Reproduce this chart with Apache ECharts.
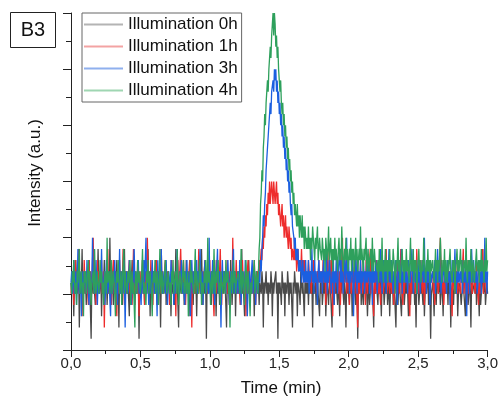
<!DOCTYPE html>
<html>
<head>
<meta charset="utf-8">
<script src="https://cdn.jsdelivr.net/npm/echarts@6/dist/echarts.min.js"></script>
<style>
html,body{margin:0;padding:0;background:#fff;}
#chart{width:501px;height:403px;}
</style>
</head>
<body>
<div id="chart"></div>
<script>
// Sampling: one value every 0.005 min, from 0 to 3.0 min
const timeStart = 0;
const timeStep = 0.005;

// Tick labels
const xTickLabels = ['0,0','0,5','1,0','1,5','2,0','2,5','3,0'];
const seriesNames = ['Illumination 0h','Illumination 1h','Illumination 3h','Illumination 4h'];

// Intensity (a.u.), 20 samples (0.1 min) per row
const gray0h = [
6,5,7,6,3,6,5,8,6,5,6,7,2,6,5,6,9,5,6,7,
5,6,4,7,6,5,8,6,6,1,6,7,5,6,6,4,7,5,6,9,
6,5,6,7,3,6,5,6,8,5,6,7,4,6,6,5,10,6,5,7,
6,4,6,5,7,6,8,5,6,2,7,6,5,6,4,7,6,9,5,6,
7,5,6,6,3,7,5,6,8,6,5,7,4,6,6,5,7,6,1,6,
5,7,6,8,5,6,4,7,6,5,6,9,5,6,3,7,6,5,6,7,
6,5,8,6,4,6,7,5,6,2,6,7,5,6,5,6,8,4,6,5,
7,6,5,6,3,6,6,5,7,4,6,9,5,6,6,2,7,5,6,6,
5,6,7,4,6,5,8,6,5,6,3,6,7,5,6,6,4,7,6,5,
6,3,6,5,7,6,6,5,9,6,4,6,5,7,6,1,6,5,6,7,
6,5,4,7,6,6,5,8,6,3,6,5,7,6,4,6,6,5,7,6,
5,7,6,6,2,6,5,7,6,5,8,6,4,6,5,6,7,3,6,5,
6,6,5,7,4,6,9,5,6,6,3,7,5,6,6,5,8,6,4,6,
5,6,7,6,3,6,5,6,7,5,6,4,6,6,5,7,6,2,6,5,
6,7,5,6,4,6,6,5,7,6,3,6,5,6,6,7,5,6,1,6,
5,6,6,4,7,6,5,6,3,6,6,5,7,6,4,6,5,6,6,2,
6,5,7,6,5,6,3,6,6,5,4,7,6,5,6,6,3,6,5,6,
5,6,4,6,5,7,5,6,2,6,5,5,6,4,6,7,5,5,3,6,
5,6,4,5,7,5,6,3,5,6,5,4,6,8,5,5,2,6,5,4,
6,5,7,5,4,6,5,3,6,5,6,9,5,4,6,5,2,6,5,7,
5,4,6,5,6,3,5,6,8,5,4,6,5,1,6,5,5,7,4,6,
5,4,6,5,7,6,5,3,5,6,4,5,6,8,5,4,2,6,5,5,
6,5,4,6,5,7,5,3,6,5,6,4,5,9,5,6,4,5,6,3,
5,6,5,7,4,6,5,5,2,6,5,4,6,7,5,5,3,6,5,6,
4,5,7,5,6,5,3,6,5,4,6,5,8,5,6,4,5,2,6,5,
6,4,5,6,5,7,5,4,6,3,5,6,5,5,7,4,6,5,1,5,
5,6,5,3,6,5,4,6,7,5,5,6,4,5,8,5,3,6,5,6,
5,5,6,4,7,5,6,2,5,6,5,4,6,5,7,5,6,3,5,6,
6,5,4,5,6,8,5,5,3,6,5,6,4,5,7,5,2,6,5,5,
5,6,5,7,4,5,6,5,3,6,4,5,6,9,5,5,6,4,5,6,
5
];
const red1h = [
5,6,7,6,4,6,8,6,5,7,6,9,5,6,6,7,3,6,5,8,
6,5,7,6,6,4,8,6,7,5,6,6,10,5,7,6,4,6,8,6,
7,5,6,6,8,5,6,7,2,6,5,7,6,9,6,5,6,7,4,6,
6,8,5,7,6,6,3,7,5,6,8,6,7,5,6,9,6,4,7,6,
5,7,6,6,8,5,7,6,4,6,9,5,6,7,6,5,8,6,3,7,
6,6,5,8,7,6,4,6,7,5,10,6,6,7,5,8,6,6,4,7,
6,5,7,8,6,6,4,7,5,6,9,6,7,5,6,6,8,5,7,6,
7,6,4,6,5,8,6,7,6,5,6,3,7,6,8,5,6,6,9,6,
5,6,8,6,7,4,6,5,7,6,6,8,5,6,2,7,6,6,5,7,
6,7,5,6,9,6,5,7,6,4,7,6,6,8,5,6,7,5,6,6,
8,5,6,7,6,6,3,6,7,5,8,6,6,5,7,9,6,4,6,7,
6,6,7,5,6,8,5,6,4,7,6,6,5,10,6,7,5,6,8,6,
5,7,6,6,4,6,7,8,6,5,6,7,3,6,6,8,5,7,6,5,
6,7,5,6,8,6,4,6,7,6,6,8,7,8,9,8,10,9,11,10,
12,11,13,12,14,13,15,13,14,15,14,13,15,14,13,14,15,13,14,12,
13,12,11,12,13,11,12,10,11,12,10,11,10,9,11,10,9,10,8,9,
9,8,10,8,9,7,8,9,7,8,8,7,9,7,8,6,8,7,6,7,
7,6,8,7,6,7,5,7,6,8,7,6,7,6,5,7,6,8,6,7,
6,7,5,8,6,6,7,4,6,5,9,6,7,5,6,8,6,3,7,6,
5,7,6,6,8,5,6,7,4,6,6,10,5,7,6,6,8,5,6,7,
6,4,7,6,5,8,6,6,7,5,9,6,6,2,7,6,5,8,6,7,
5,6,7,6,4,8,6,5,7,6,6,9,5,7,6,6,3,7,6,5,
8,6,7,5,6,6,4,7,6,8,5,6,7,6,9,5,6,7,6,5,
6,8,5,7,6,4,6,7,6,5,8,6,7,5,6,9,6,6,4,7,
5,6,8,6,7,5,6,6,3,7,6,5,8,6,6,7,5,6,9,6,
7,5,6,6,8,6,5,7,6,4,6,7,5,8,6,6,7,5,6,6,
6,7,5,6,4,7,6,8,6,5,6,6,10,6,5,7,6,4,6,7,
5,6,6,8,6,7,5,6,6,3,7,6,6,5,8,6,7,5,6,6,
6,5,7,6,6,9,5,6,7,6,4,6,8,5,6,7,6,6,5,7,
7,6,5,6,8,6,6,4,7,5,6,7,6,9,5,6,6,7,5,6,
6
];
const blue3h = [
6,7,5,6,8,5,6,7,4,6,9,6,5,7,6,3,6,7,5,6,
7,6,5,8,6,6,4,7,6,5,6,10,6,7,5,6,8,6,4,6,
6,5,7,6,9,6,5,6,7,4,6,8,6,5,7,6,6,3,7,6,
5,7,6,8,6,5,6,4,7,6,9,5,6,7,6,5,8,6,2,6,
7,6,5,6,8,6,7,4,6,5,7,9,6,6,5,7,6,8,5,6,
6,4,7,6,5,8,6,6,10,5,7,6,4,6,7,5,6,8,6,7,
5,6,7,6,3,8,6,5,7,6,9,6,5,6,7,6,5,8,6,4,
6,7,6,5,8,6,6,7,4,6,5,7,6,9,6,6,5,7,6,8,
7,5,6,6,4,7,6,8,5,6,7,6,3,6,8,6,5,7,6,6,
6,8,5,7,6,6,9,5,6,7,4,6,6,8,5,7,6,6,5,10,
5,6,7,6,8,5,6,4,7,6,6,9,5,6,7,6,2,6,8,6,
6,7,6,5,7,6,8,6,4,6,7,5,6,6,9,5,7,6,6,5,
7,6,5,8,6,4,6,7,6,6,5,8,7,6,3,6,6,7,5,6,
6,8,5,6,7,6,4,7,6,5,6,7,6,8,7,9,10,12,11,13,
14,16,17,18,18,20,20,22,21,23,23,24,23,25,24,25,23,24,22,23,
21,22,20,21,19,20,18,19,17,18,16,17,15,16,14,15,13,12,13,11,
11,10,9,10,8,9,8,9,7,8,7,8,6,7,8,6,7,6,8,6,
7,6,8,5,7,6,7,9,6,7,5,8,6,7,6,4,7,8,6,7,
6,7,5,7,8,6,7,6,9,5,7,6,8,7,6,5,7,6,8,4,
7,6,8,6,5,7,7,9,6,8,6,7,5,6,8,7,6,10,7,6,
8,5,7,6,7,8,6,3,7,6,9,7,5,8,6,7,6,8,5,7,
6,8,7,5,7,6,9,6,7,8,5,7,6,7,4,8,6,7,6,8,
7,5,6,8,7,6,9,7,5,6,8,7,6,7,5,8,6,7,9,6,
7,6,8,6,5,7,6,8,7,6,4,7,8,6,7,6,9,5,7,7,
6,8,6,7,7,5,8,6,7,6,6,9,7,5,7,8,6,6,7,5,
8,6,7,5,7,6,8,7,6,10,6,7,5,8,6,7,6,4,7,6,
6,7,7,6,8,5,7,6,9,7,6,8,6,5,7,6,7,8,6,7,
7,5,8,6,6,7,4,7,6,8,7,6,7,9,6,5,7,6,8,6,
6,7,6,8,5,7,7,6,8,6,3,7,6,7,5,8,6,9,7,6,
8,6,7,6,7,5,6,8,7,6,7,5,8,6,7,6,10,6,7,5,
7
];
const green4h = [
6,5,7,6,8,6,5,6,4,7,6,6,9,5,6,7,5,6,3,7,
6,7,5,6,6,8,5,7,6,4,6,6,7,5,9,6,5,6,7,6,
5,6,8,6,7,5,6,4,6,7,6,5,10,6,6,7,5,6,8,5,
6,7,6,5,3,6,7,6,8,6,5,6,7,4,6,6,9,5,7,6,
6,5,7,6,6,8,4,6,7,5,6,6,2,7,6,5,8,6,7,6,
5,6,7,9,6,5,6,6,4,7,6,8,5,6,7,6,5,3,6,7,
6,8,5,6,7,6,4,6,9,6,5,7,6,5,6,7,8,6,5,6,
7,6,5,6,4,7,6,8,5,6,6,7,5,9,6,4,6,7,6,5,
6,6,8,5,7,6,5,6,7,3,6,5,8,6,7,6,6,5,7,9,
5,7,6,6,5,8,6,7,4,6,6,5,7,6,8,5,6,10,6,7,
6,4,6,7,5,6,9,6,5,7,6,6,8,5,6,4,7,6,6,5,
7,6,5,8,6,6,7,5,6,2,6,7,6,5,8,6,7,5,6,6,
6,7,6,5,6,9,5,6,7,6,4,6,8,6,5,7,6,6,3,6,
5,6,6,7,8,5,6,7,6,5,7,9,10,13,14,16,15,18,19,21,
20,22,23,24,23,25,26,27,26,28,29,30,28,30,29,27,28,26,27,25,
24,23,24,22,21,22,20,21,19,20,18,19,17,18,16,17,15,16,14,15,
13,14,12,13,12,11,13,11,12,10,12,11,10,12,10,11,9,11,10,9,
10,9,11,9,10,8,10,9,11,10,9,8,10,9,10,11,8,9,10,9,
9,8,10,9,8,9,7,10,9,8,9,11,8,9,10,8,9,7,9,8,
10,8,9,8,7,9,10,8,9,8,11,9,7,8,9,8,10,8,9,7,
8,9,8,10,7,9,8,9,7,8,10,8,9,7,8,9,8,11,8,9,
8,7,9,8,8,10,7,8,9,7,8,8,9,7,10,8,7,9,8,8,
8,7,8,6,9,7,8,7,10,7,6,8,7,9,7,8,6,8,7,9,
7,8,6,7,9,8,7,5,8,7,8,10,7,8,6,7,8,9,7,8,
6,8,7,9,7,8,7,6,8,10,7,8,7,9,6,8,7,8,5,7,
8,9,7,8,6,7,8,7,10,8,7,6,8,7,9,7,8,6,8,7,
7,8,8,6,7,9,7,8,6,8,7,7,10,8,6,7,8,7,9,6,
8,7,6,8,7,8,9,7,7,6,8,7,8,5,7,8,9,7,8,7,
7,9,7,8,6,7,8,8,7,10,7,6,8,7,8,7,9,6,7,8,
8,6,7,8,9,7,7,8,6,8,7,9,7,8,7,6,8,7,10,7,
8
];

const seriesValues = [gray0h, red1h, blue3h, green4h];
const seriesColors = ['#4a4a4a', '#ee2c2c', '#1b5fe0', '#2ea05c'];
const legendColors = ['#b4b4b4', '#f3a3a3', '#8fb0ee', '#9fd6b2'];

function pairs(vals) {
  return vals.map((v, i) => [+(timeStart + i * timeStep).toFixed(3), v]);
}

const FONT = '"Liberation Sans", Arial, sans-serif';
const chart = echarts.init(document.getElementById('chart'), null, {renderer: 'canvas'});

chart.setOption({
  backgroundColor: '#ffffff',
  animation: false,
  grid: {left: 71, right: 10, top: 13, bottom: 53, containLabel: false},
  legend: {
    orient: 'vertical',
    left: 82, top: 13,
    padding: [3, 4, 3, 2],
    itemGap: 5,
    itemWidth: 39,
    itemHeight: 2,
    icon: 'rect',
    borderColor: '#666',
    borderWidth: 1,
    selectedMode: false,
    textStyle: {fontFamily: FONT, fontSize: 17, color: '#111', lineHeight: 17},
    data: seriesNames.map((n, i) => ({name: n, itemStyle: {color: legendColors[i]}}))
  },
  xAxis: {
    type: 'value', min: 0, max: 3, interval: 0.5,
    axisLine: {show: true, lineStyle: {color: '#222', width: 1}},
    axisTick: {show: true, inside: false, length: 7, lineStyle: {color: '#222'}},
    minorTick: {show: true, splitNumber: 2, length: 4, lineStyle: {color: '#222'}},
    splitLine: {show: false},
    axisLabel: {
      fontFamily: FONT, fontSize: 15, color: '#222', margin: 6,
      formatter: function (v) { return xTickLabels[Math.round(v / 0.5)]; }
    }
  },
  yAxis: {
    type: 'value', min: 0, max: 30, interval: 5,
    axisLine: {show: true, lineStyle: {color: '#222', width: 1}},
    axisTick: {show: true, inside: false, length: 8, lineStyle: {color: '#222'}},
    minorTick: {show: true, splitNumber: 2, length: 5, lineStyle: {color: '#222'}},
    splitLine: {show: false},
    axisLabel: {show: false}
  },
  graphic: [
    {type: 'rect', shape: {x: 10.5, y: 12.5, width: 45, height: 35},
     style: {fill: '#fff', stroke: '#222', lineWidth: 1}},
    {type: 'text', x: 33, y: 30,
     style: {text: 'B3', font: '20px ' + FONT, fill: '#111', align: 'center', verticalAlign: 'middle'}},
    {type: 'text', x: 35.5, y: 173, rotation: Math.PI / 2,
     style: {text: 'Intensity (a.u.)', font: '17px ' + FONT, fill: '#111', align: 'center', verticalAlign: 'middle'}},
    {type: 'text', x: 281, y: 388,
     style: {text: 'Time (min)', font: '17px ' + FONT, fill: '#111', align: 'center', verticalAlign: 'middle'}}
  ],
  series: seriesNames.map((n, i) => ({
    name: n,
    type: 'line',
    symbol: 'none',
    showSymbol: false,
    clip: true,
    lineStyle: {color: seriesColors[i], width: 1.3},
    itemStyle: {color: seriesColors[i]},
    data: pairs(seriesValues[i])
  }))
});
</script>
</body>
</html>
